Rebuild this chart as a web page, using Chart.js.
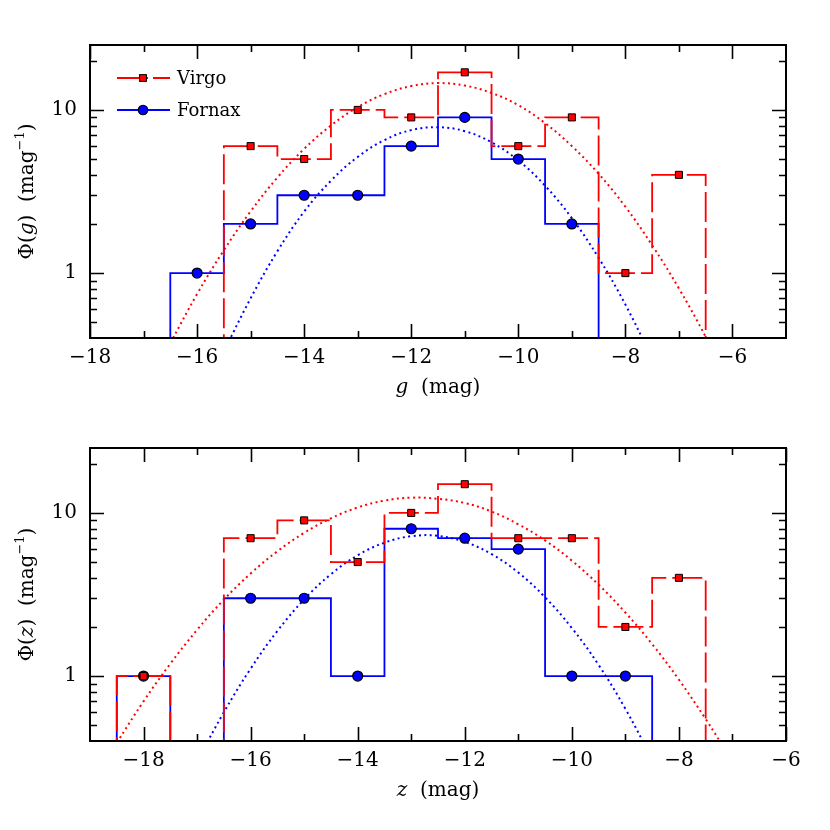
<!DOCTYPE html>
<html><head><meta charset="utf-8">
<script src="https://cdn.jsdelivr.net/npm/chart.js@4.4.0/dist/chart.umd.min.js"></script>
<style>
html,body{margin:0;padding:0;background:#fff;}
#wrap{position:relative;width:830px;height:830px;background:#fff;}
.panel{position:absolute;left:0;width:830px;height:415px;}
</style></head><body>
<div id="wrap">
<div class="panel" style="top:0"><canvas id="c1" width="830" height="415"></canvas></div>
<div class="panel" style="top:415px"><canvas id="c2" width="830" height="415"></canvas></div>
</div>
<script>
// ---------- DATA ----------
// g band: bin centres (mag) and luminosity function values (mag^-1)
const gMagVirgo  = [-15, -14, -13, -12, -11, -10, -9, -8, -7];
const gPhiVirgo  = [6, 5, 10, 9, 17, 6, 9, 1, 4];
const gMagFornax = [-16, -15, -14, -13, -12, -11, -10, -9];
const gPhiFornax = [1, 2, 3, 3, 6, 9, 5, 2];
// z band
const zMagVirgo  = [-18, -17, -16, -15, -14, -13, -12, -11, -10, -9, -8];
const zPhiVirgo  = [1, 0, 7, 9, 5, 10, 15, 7, 7, 2, 4];
const zMagFornax = [-18, -17, -16, -15, -14, -13, -12, -11, -10, -9];
const zPhiFornax = [1, 0, 3, 3, 1, 8, 7, 6, 1, 1];
// dotted fit curves
const gFitVirgoMag = [-16.5,-16,-15.5,-15,-14.5,-14,-13.5,-13,-12.5,-12,-11.5,-11,-10.5,-10,-9.5,-9,-8.5,-8,-7.5,-7,-6.5,-6];
const gFitVirgoPhi = [0.372,0.744,1.38,2.39,3.85,5.77,8.02,10.4,12.5,14.0,14.6,14.1,12.7,10.7,8.3,6.0,4.06,2.55,1.48,0.805,0.406,0.19];
const gFitFornaxMag = [-15.5,-15,-14.5,-14,-13.5,-13,-12.5,-12,-11.5,-11,-10.5,-10,-9.5,-9,-8.5,-8,-7.5];
const gFitFornaxPhi = [0.331,0.70,1.36,2.38,3.68,5.15,6.53,7.52,7.83,7.41,6.33,4.90,3.43,2.17,1.24,0.641,0.30];
const zFitVirgoMag = [-18.5,-18,-17.5,-17,-16.5,-16,-15.5,-15,-14.5,-14,-13.5,-13,-12.5,-12,-11.5,-11,-10.5,-10,-9.5,-9,-8.5,-8,-7.5,-7];
const zFitVirgoPhi = [0.39,0.70,1.19,1.92,2.94,4.25,5.82,7.55,9.27,10.8,11.9,12.4,12.2,11.5,10.2,8.52,6.78,5.10,3.63,2.45,1.57,0.95,0.545,0.30];
const zFitFornaxMag = [-17,-16.5,-16,-15.5,-15,-14.5,-14,-13.5,-13,-12.5,-12,-11.5,-11,-10.5,-10,-9.5,-9,-8.5];
const zFitFornaxPhi = [0.30,0.60,1.11,1.89,2.95,4.21,5.50,6.57,7.20,7.23,6.64,5.59,4.31,3.04,1.97,1.17,0.63,0.31];
// axes / ticks
const gMajorTicks = [-18, -16, -14, -12, -10, -8, -6];
const gMinorTicks = [-17, -15, -13, -11, -9, -7];
const zMajorTicks = [-18, -16, -14, -12, -10, -8, -6];
const zMinorTicks = [-17, -15, -13, -11, -9, -7];
const yMajorTicks = [1, 10];
const yMinorTicks = [0.5, 0.6, 0.7, 0.8, 0.9, 2, 3, 4, 5, 6, 7, 8, 9, 20];
const seriesNames = ['Virgo', 'Fornax'];

// ---------- helpers ----------
const RED = '#ff0000', BLUE = '#0000ff';
const FONT = '"DejaVu Serif", "Liberation Serif", serif';
const FLOOR = 0.1; // below the axis: histogram drops out of view
const fmt = v => (v < 0 ? '\u2212' + Math.abs(v) : String(v));

function histPath(centres, values) {
  const pts = [{x: centres[0] - 0.5, y: FLOOR}];
  centres.forEach((c, i) => pts.push({x: c - 0.5, y: values[i] > 0 ? values[i] : FLOOR}));
  pts.push({x: centres[centres.length - 1] + 0.5, y: FLOOR});
  return pts;
}
function pts(xs, ys) {
  const out = [];
  xs.forEach((x, i) => { if (ys[i] > 0) out.push({x: x, y: ys[i]}); });
  return out;
}

function drawRich(ctx, parts, cx, cy, rot) {
  ctx.save();
  ctx.translate(cx, cy);
  if (rot) ctx.rotate(-Math.PI / 2);
  ctx.textBaseline = 'middle';
  ctx.fillStyle = '#000';
  let w = 0;
  parts.forEach(p => { ctx.font = p.f; w += ctx.measureText(p.t).width; });
  let x = -w / 2;
  parts.forEach(p => {
    ctx.font = p.f;
    ctx.textAlign = 'left';
    ctx.fillText(p.t, x, p.dy || 0);
    x += ctx.measureText(p.t).width;
  });
  ctx.restore();
}

function makePlugin(band, majorX, minorX, withLegend) {
  return {
    id: 'frameTicks',
    afterDatasetsDraw(chart) {
      const ctx = chart.ctx, a = chart.chartArea;
      const xs = chart.scales.x, ys = chart.scales.y;
      ctx.save();
      ctx.strokeStyle = '#000';
      ctx.lineWidth = 1.6;
      ctx.setLineDash([]);
      const vt = (v, len) => {
        const p = Math.round(xs.getPixelForValue(v)) + 0.5;
        ctx.beginPath();
        ctx.moveTo(p, a.bottom); ctx.lineTo(p, a.bottom - len);
        ctx.moveTo(p, a.top); ctx.lineTo(p, a.top + len);
        ctx.stroke();
      };
      const ht = (v, len) => {
        const p = Math.round(ys.getPixelForValue(v)) + 0.5;
        ctx.beginPath();
        ctx.moveTo(a.left, p); ctx.lineTo(a.left + len, p);
        ctx.moveTo(a.right, p); ctx.lineTo(a.right - len, p);
        ctx.stroke();
      };
      majorX.forEach(v => vt(v, 14));
      minorX.forEach(v => vt(v, 7));
      yMajorTicks.forEach(v => ht(v, 14));
      yMinorTicks.forEach(v => ht(v, 7));
      ctx.lineWidth = 2;
      ctx.strokeRect(a.left, a.top, a.right - a.left, a.bottom - a.top);
      ctx.restore();
    },
    afterDraw(chart) {
      const ctx = chart.ctx, a = chart.chartArea;
      const reg = '20px ' + FONT, ital = 'italic 20px ' + FONT, sup = '13px ' + FONT;
      // x-axis title
      drawRich(ctx, [{t: band, f: ital}, {t: '  (mag)', f: reg}], (a.left + a.right) / 2, a.bottom + 50, false);
      // y-axis title
      drawRich(ctx, [
        {t: '\u03A6(', f: reg}, {t: band, f: ital}, {t: ')  (mag', f: reg},
        {t: '\u22121', f: sup, dy: -7}, {t: ')', f: reg}
      ], a.left - 62, (a.top + a.bottom) / 2, true);
      if (withLegend) {
        ctx.save();
        const lx0 = a.left + 27, lx1 = a.left + 80, mx = a.left + 53, tx = a.left + 87;
        const y1 = a.top + 33, y2 = a.top + 65;
        ctx.lineWidth = 1.8;
        ctx.strokeStyle = RED;
        ctx.setLineDash([31, 5]);
        ctx.beginPath(); ctx.moveTo(lx0, y1); ctx.lineTo(lx1, y1); ctx.stroke();
        ctx.setLineDash([]);
        ctx.fillStyle = RED; ctx.strokeStyle = '#000'; ctx.lineWidth = 1;
        ctx.fillRect(mx - 3.4, y1 - 3.4, 6.8, 6.8);
        ctx.strokeRect(mx - 3.4, y1 - 3.4, 6.8, 6.8);
        ctx.strokeStyle = BLUE; ctx.lineWidth = 1.8;
        ctx.beginPath(); ctx.moveTo(lx0, y2); ctx.lineTo(lx1, y2); ctx.stroke();
        ctx.fillStyle = BLUE; ctx.strokeStyle = '#000'; ctx.lineWidth = 1.1;
        ctx.beginPath(); ctx.arc(mx, y2, 4.8, 0, Math.PI * 2); ctx.fill(); ctx.stroke();
        ctx.fillStyle = '#000';
        ctx.font = '18px ' + FONT;
        ctx.textAlign = 'left'; ctx.textBaseline = 'middle';
        ctx.fillText(seriesNames[0], tx, y1 + 1);
        ctx.fillText(seriesNames[1], tx, y2 + 1);
        ctx.restore();
      }
    }
  };
}

function makeChart(id, band, xmin, xmax, majorX, minorX, magV, phiV, magF, phiF,
                   fitVx, fitVy, fitFx, fitFy, pad, withLegend) {
  return new Chart(document.getElementById(id), {
    type: 'scatter',
    data: {
      datasets: [
        {label: seriesNames[0] + ' points', data: pts(magV, phiV), showLine: false,
         pointStyle: 'rect', pointRadius: 5, pointBackgroundColor: RED,
         pointBorderColor: '#000', pointBorderWidth: 1},
        {label: seriesNames[1] + ' points', data: pts(magF, phiF), showLine: false,
         pointStyle: 'circle', pointRadius: 5, pointBackgroundColor: BLUE,
         pointBorderColor: '#000', pointBorderWidth: 1.2},
        {label: seriesNames[0], data: histPath(magV, phiV), showLine: true, stepped: 'before',
         borderColor: RED, borderWidth: 1.8, borderDash: [30, 6], pointRadius: 0, clip: 0},
        {label: seriesNames[1], data: histPath(magF, phiF), showLine: true, stepped: 'before',
         borderColor: BLUE, borderWidth: 1.8, pointRadius: 0, clip: 0},
        {label: seriesNames[0] + ' fit', data: pts(fitVx, fitVy), showLine: true, tension: 0.4,
         borderColor: RED, borderWidth: 2, borderDash: [2, 3.4], pointRadius: 0, clip: 0},
        {label: seriesNames[1] + ' fit', data: pts(fitFx, fitFy), showLine: true, tension: 0.4,
         borderColor: BLUE, borderWidth: 2, borderDash: [2, 3.4], pointRadius: 0, clip: 0}
      ]
    },
    options: {
      responsive: false, animation: false, devicePixelRatio: 1, events: [],
      layout: {padding: pad},
      plugins: {legend: {display: false}, tooltip: {enabled: false}},
      scales: {
        x: {
          type: 'linear', position: 'bottom', min: xmin, max: xmax,
          grid: {display: false, drawTicks: false}, border: {display: false},
          afterBuildTicks: s => { s.ticks = majorX.map(v => ({value: v})); },
          afterFit: s => { s.height = 60; },
          ticks: {font: {family: FONT, size: 20}, color: '#000', padding: 8,
                  maxRotation: 0, autoSkip: false, callback: v => fmt(v)}
        },
        y: {
          type: 'logarithmic', position: 'left', min: 0.4, max: 25,
          grid: {display: false, drawTicks: false}, border: {display: false},
          afterBuildTicks: s => { s.ticks = yMajorTicks.map(v => ({value: v})); },
          afterFit: s => { s.width = 90; },
          ticks: {font: {family: FONT, size: 20}, color: '#000', padding: 13,
                  autoSkip: false, callback: v => String(v)}
        }
      }
    },
    plugins: [makePlugin(band, majorX, minorX, withLegend)]
  });
}

makeChart('c1', 'g', -18, -5, gMajorTicks, gMinorTicks, gMagVirgo, gPhiVirgo, gMagFornax, gPhiFornax,
          gFitVirgoMag, gFitVirgoPhi, gFitFornaxMag, gFitFornaxPhi,
          {left: 0, right: 44, top: 45, bottom: 17}, true);
makeChart('c2', 'z', -19, -6, zMajorTicks, zMinorTicks, zMagVirgo, zPhiVirgo, zMagFornax, zPhiFornax,
          zFitVirgoMag, zFitVirgoPhi, zFitFornaxMag, zFitFornaxPhi,
          {left: 0, right: 44, top: 33, bottom: 29}, false);
</script>
</body></html>
